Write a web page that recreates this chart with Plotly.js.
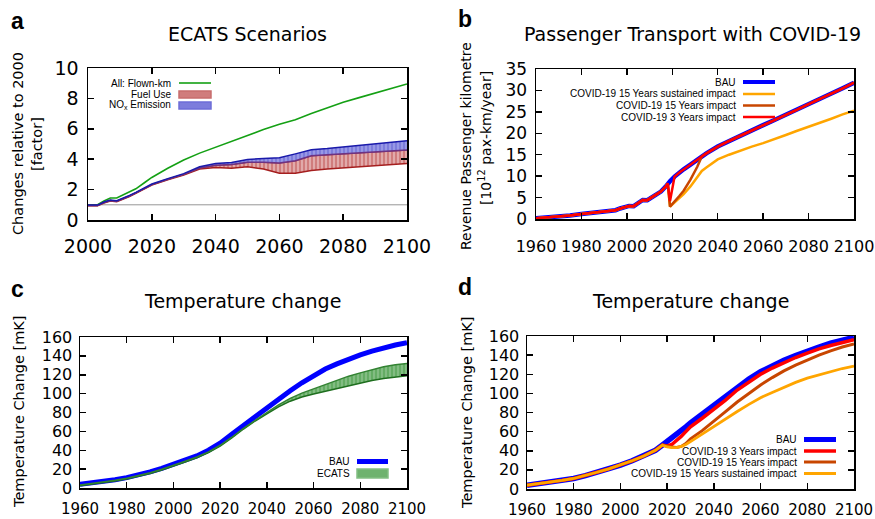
<!DOCTYPE html>
<html>
<head>
<meta charset="utf-8">
<script src="https://cdn.plot.ly/plotly-3.0.1.min.js"></script>
<style>html,body{margin:0;padding:0;background:#fff;}#chart{width:875px;height:519px;}</style>
</head>
<body>
<div id="chart"></div>
<script>
// ---------- Panel a: ECATS Scenarios ----------
const yearsA = [2000,2003,2005,2007,2009,2011,2013,2015,2018,2020,2025,2030,2035,2040,2045,2050,2055,2060,2065,2070,2075,2080,2085,2090,2095,2100];
const flownKm = [1.0,1.0,1.25,1.45,1.45,1.65,1.85,2.05,2.5,2.8,3.4,3.95,4.4,4.8,5.2,5.55,5.95,6.3,6.6,7.0,7.4,7.75,8.05,8.35,8.65,8.95];
const fuelLow = [0.93,0.93,1.12,1.25,1.2,1.35,1.55,1.75,2.1,2.3,2.65,2.95,3.35,3.45,3.4,3.5,3.35,3.08,3.07,3.25,3.35,3.42,3.5,3.57,3.65,3.72];
const fuelHigh = [0.95,0.95,1.15,1.28,1.23,1.38,1.58,1.78,2.13,2.33,2.68,3.0,3.42,3.6,3.65,3.8,3.8,3.75,3.9,4.22,4.3,4.37,4.44,4.5,4.55,4.6];
const noxLow = fuelHigh.slice();
const noxHigh = [0.98,0.98,1.18,1.32,1.27,1.42,1.62,1.82,2.17,2.37,2.72,3.05,3.5,3.72,3.78,3.98,4.05,4.1,4.35,4.62,4.7,4.8,4.9,5.0,5.1,5.22];
const baseYears = [2000,2100];
const baseLine = [1,1];

// ---------- Panel b: Passenger Transport with COVID-19 ----------
const yearsB = [1960,1965,1970,1975,1980,1985,1990,1993,1995,1997,2000,2001,2003,2005,2007,2009,2011,2013,2015,2017,2018,2019,2021,2023,2025,2028,2031,2033,2035,2040,2045,2050,2055,2060,2065,2070,2075,2080,2085,2090,2095,2100];
const bauB = [0.2,0.35,0.55,0.8,1.15,1.45,1.8,1.9,2.05,2.45,2.9,3.05,3.0,3.7,4.45,4.4,5.0,5.6,6.4,7.5,8.3,8.8,9.9,10.8,11.6,12.7,13.9,14.6,15.3,16.9,18.2,19.4,20.6,21.9,23.1,24.3,25.5,26.8,28.0,29.3,30.5,31.8];
const covid3B = [0.2,0.35,0.55,0.8,1.15,1.45,1.8,1.9,2.05,2.45,2.9,3.05,3.0,3.7,4.45,4.4,5.0,5.6,6.4,7.5,8.3,4.2,9.9,10.8,11.6,12.7,13.9,14.6,15.3,16.9,18.2,19.4,20.6,21.9,23.1,24.3,25.5,26.8,28.0,29.3,30.5,31.8];
const covid15B = [0.2,0.35,0.55,0.8,1.15,1.45,1.8,1.9,2.05,2.45,2.9,3.05,3.0,3.7,4.45,4.4,5.0,5.6,6.4,7.5,8.3,2.9,4.0,5.3,6.6,9.2,12.2,14.6,15.3,16.9,18.2,19.4,20.6,21.9,23.1,24.3,25.5,26.8,28.0,29.3,30.5,31.8];
const covid15sB = [0.2,0.35,0.55,0.8,1.15,1.45,1.8,1.9,2.05,2.45,2.9,3.05,3.0,3.7,4.45,4.4,5.0,5.6,6.4,7.5,8.3,2.9,3.8,4.8,5.8,7.6,9.7,11.2,12.0,13.9,15.0,16.0,16.9,17.7,18.6,19.6,20.6,21.5,22.5,23.4,24.4,25.3];

// ---------- Panel c: Temperature change (BAU vs ECATS) ----------
const yearsC = [1960,1965,1970,1975,1980,1985,1990,1995,2000,2005,2010,2015,2020,2025,2030,2035,2040,2045,2050,2055,2060,2065,2070,2075,2080,2085,2090,2095,2100];
const bauC = [4,5.3,7,8.8,11,13.8,17,20.8,25,29.5,34,40,47.5,57,66.5,76,85,94,103,111.5,119.5,126,131.5,136.5,141,145,148.5,151.5,154];
const ecatsLow = [2.5,4,5.5,7.5,9.5,12.3,15.3,19,23,27.5,32,37.5,44.5,53,62.5,71,78.5,86,92,96.5,99.5,102.5,105.5,108.5,111.5,114,116,117.8,119];
const ecatsHigh = [3.3,4.8,6.3,8.3,10.3,13.1,16.1,19.8,23.8,28.3,32.8,38.3,45.3,53.8,63.3,72,80,88,95,100.5,105,110,114.5,118.5,122,125.5,128.5,130.5,132];

// ---------- Panel d: Temperature change (COVID-19) ----------
const yearsD = [1960,1965,1970,1975,1980,1985,1990,1995,2000,2005,2010,2015,2018,2020,2022,2024,2026,2028,2030,2035,2040,2045,2050,2055,2060,2065,2070,2075,2080,2085,2090,2095,2100];
const bauD = [4,5.5,7,9,11,14,17.5,21,25,29.5,34.5,40.5,46,49.5,53.5,57,61,65,69,78.5,88,97.5,107,115,122.7,129,134.5,139.5,144.5,148.5,152.5,155.5,158.6];
const covid3D = [4,5.5,7,9,11,14,17.5,21,25,29.5,34.5,40.5,46,45,46.5,50.5,55,60,65,74,83,93,103.5,112,120,126.5,132.5,137.5,142,146.5,150,153,156];
const covid15D = [4,5.5,7,9,11,14,17.5,21,25,29.5,34.5,40.5,46,44.5,43.8,43.5,44.5,47.5,52.5,61,70.5,81,91,100,108.8,116.5,123.5,129.5,135,140,144.5,148.5,151.6];
const covid15sD = [4,5.5,7,9,11,14,17.5,21,25,29.5,34.5,40.5,46,44,43.3,43.3,44.5,46.5,49.5,57.5,65,73,81,88.5,95.5,101,106.5,111.5,116,119.5,123,126,128.6];

// ---------- colours ----------
const GREEN = 'rgb(20,160,20)';
const BLUE = 'rgb(0,0,255)';
const RED = 'rgb(255,0,0)';
const BROWN = 'rgb(200,70,0)';
const ORANGE = 'rgb(255,165,0)';

const W = 875, H = 519;
const px = v => v / W;
const py = v => 1 - v / H;

function line(x, y, xa, ya, color, width) {
  return {x: x, y: y, xaxis: xa, yaxis: ya, type: 'scatter', mode: 'lines',
          line: {color: color, width: width}, showlegend: false, hoverinfo: 'skip'};
}
function band(x, y, xa, ya, lineColor, fill, stripe) {
  return {x: x, y: y, xaxis: xa, yaxis: ya, type: 'scatter', mode: 'lines',
          line: {color: lineColor, width: 1.5}, fill: 'tonexty', fillcolor: fill,
          fillpattern: {shape: '|', size: 4, solidity: 0.3, fgcolor: stripe, bgcolor: fill},
          showlegend: false, hoverinfo: 'skip'};
}

const data = [
  // panel a
  line(baseYears, baseLine, 'x', 'y', 'rgb(150,150,150)', 1),
  line(yearsA, flownKm, 'x', 'y', GREEN, 1.6),
  line(yearsA, fuelLow, 'x', 'y', 'rgb(165,30,30)', 1.5),
  band(yearsA, fuelHigh, 'x', 'y', 'rgb(150,50,80)', 'rgb(208,125,125)', 'rgb(238,200,200)'),
  line(yearsA, noxLow, 'x', 'y', 'rgb(110,50,130)', 1.5),
  band(yearsA, noxHigh, 'x', 'y', 'rgb(25,25,170)', 'rgb(125,125,220)', 'rgb(170,170,238)'),
  // panel b
  line(yearsB, bauB, 'x2', 'y2', BLUE, 4.5),
  line(yearsB, covid15sB, 'x2', 'y2', ORANGE, 2.5),
  line(yearsB, covid15B, 'x2', 'y2', BROWN, 2.5),
  line(yearsB, covid3B, 'x2', 'y2', RED, 2.5),
  // panel c
  line(yearsC, bauC, 'x3', 'y3', BLUE, 5),
  line(yearsC, ecatsLow, 'x3', 'y3', 'rgb(30,110,30)', 1.5),
  band(yearsC, ecatsHigh, 'x3', 'y3', 'rgb(50,130,50)', 'rgb(100,172,100)', 'rgb(150,200,150)'),
  // panel d
  line(yearsD, bauD, 'x4', 'y4', BLUE, 5.5),
  line(yearsD, covid3D, 'x4', 'y4', RED, 3.5),
  line(yearsD, covid15D, 'x4', 'y4', BROWN, 3),
  line(yearsD, covid15sD, 'x4', 'y4', ORANGE, 2.8)
];

function axis(domain, range, dtick, anchor, fontSize, standoff) {
  return {domain: domain, range: range, dtick: dtick, tick0: range[0], anchor: anchor,
          ticks: 'inside', ticklen: 6, tickwidth: 1.5, tickcolor: '#000',
          showline: true, mirror: 'ticks', linecolor: '#000', linewidth: 1.5,
          showgrid: false, zeroline: false, fixedrange: true,
          ticklabelstandoff: standoff, ticklabeloverflow: 'allow',
          tickfont: {family: 'DejaVu Sans', size: fontSize, color: '#000'}};
}

const layout = {
  width: W, height: H,
  margin: {l: 0, r: 0, t: 0, b: 0},
  paper_bgcolor: '#fff', plot_bgcolor: '#fff',
  showlegend: false,
  xaxis:  axis([px(88), px(407)], [2000, 2100], 20, 'y', 19, 9),
  yaxis:  axis([py(220), py(68)], [0, 10], 2, 'x', 19, 4),
  xaxis2: axis([px(536), px(854)], [1960, 2100], 20, 'y2', 16, 12),
  yaxis2: axis([py(219), py(69)], [0, 35], 5, 'x2', 17, 4),
  xaxis3: axis([px(80), px(407)], [1960, 2100], 20, 'y3', 15, 6),
  yaxis3: axis([py(488), py(337)], [0, 160], 20, 'x3', 16, 3),
  xaxis4: axis([px(527), px(854)], [1960, 2100], 20, 'y4', 15, 6),
  yaxis4: axis([py(489), py(336)], [0, 160], 20, 'x4', 16, 3),
  annotations: [],
  shapes: []
};

function text(t, x, y, size, opts) {
  const o = Object.assign({text: t, x: px(x), y: py(y), xref: 'paper', yref: 'paper',
    showarrow: false, xanchor: 'center', yanchor: 'middle',
    font: {family: 'DejaVu Sans', size: size, color: '#000'}}, opts || {});
  layout.annotations.push(o);
}
function legText(t, xr, y) {
  text(t, xr, y, 10, {xanchor: 'right', font: {family: 'Liberation Sans', size: 10, color: '#000'}});
}
function legLine(x0, x1, y, color, width) {
  layout.shapes.push({type: 'line', xref: 'paper', yref: 'paper', x0: px(x0), x1: px(x1),
    y0: py(y), y1: py(y), line: {color: color, width: width}});
}
function legBox(x0, x1, y0, y1, fill, border) {
  layout.shapes.push({type: 'rect', xref: 'paper', yref: 'paper', x0: px(x0), x1: px(x1),
    y0: py(y1), y1: py(y0), fillcolor: fill, line: {color: border, width: 1.5}});
}

// panel letters
const letterFont = {family: 'Liberation Sans', size: 23, color: '#000'};
text('<b>a</b>', 17, 21, 23, {font: letterFont});
text('<b>b</b>', 465, 19, 23, {font: letterFont});
text('<b>c</b>', 17, 289, 23, {font: letterFont});
text('<b>d</b>', 465, 287, 23, {font: letterFont});

// titles
text('ECATS Scenarios', 247, 34, 19);
text('Passenger Transport with COVID-19', 692, 34, 19);
text('Temperature change', 243, 301, 19);
text('Temperature change', 690, 301, 19);

// y axis titles
text('Changes relative to 2000', 18, 144, 14.5, {textangle: -90});
text('[factor]', 37, 144, 14.5, {textangle: -90});
text('Revenue Passenger kilometre', 466, 146, 14, {textangle: -90});
text('[10<sup>12</sup> pax-km/year]', 485, 138, 14, {textangle: -90});
text('Temperature Change [mK]', 19, 412, 14.5, {textangle: -90});
text('Temperature Change [mK]', 467, 413, 14.5, {textangle: -90});

// legend a
legText('All: Flown-km', 173, 83);
legLine(179, 211, 83, GREEN, 1.6);
legText('Fuel Use', 173, 94.5);
legBox(179, 211, 91, 98, 'rgb(208,125,125)', 'rgb(200,110,110)');
legText('NO<sub>x</sub> Emission', 173, 105.5);
legBox(179, 211, 102, 109, 'rgb(125,125,220)', 'rgb(110,110,215)');

// legend b
legText('BAU', 738, 82);
legLine(743, 775, 82, BLUE, 4);
legText('COVID-19 15 Years sustained impact', 738, 94);
legLine(743, 775, 94, ORANGE, 2.5);
legText('COVID-19 15 Years impact', 738, 105.5);
legLine(743, 775, 105.5, BROWN, 2.5);
legText('COVID-19 3 Years impact', 738, 117);
legLine(743, 775, 117, RED, 2.5);

// legend c
legText('BAU', 352, 461.5);
legLine(357, 388, 461.5, BLUE, 5);
legText('ECATS', 352, 473.5);
legBox(357, 388, 469, 478, 'rgb(110,178,110)', 'rgb(130,190,130)');

// legend d
legText('BAU', 799, 439.5);
legLine(804, 836, 439.5, BLUE, 5);
legText('COVID-19 3 Years impact', 799, 451);
legLine(804, 836, 451, RED, 3.5);
legText('COVID-19 15 Years impact', 799, 462);
legLine(804, 836, 462, BROWN, 3);
legText('COVID-19 15 Years sustained impact', 799, 473.5);
legLine(804, 836, 473.5, ORANGE, 3);

Plotly.newPlot('chart', data, layout, {staticPlot: true, displayModeBar: false});
</script>
</body>
</html>
